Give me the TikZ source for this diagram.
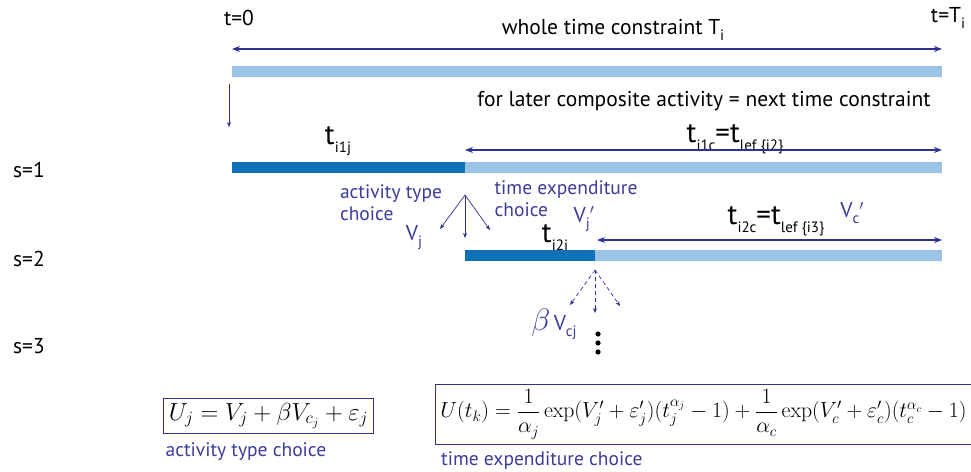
\documentclass[tikz,border=0pt]{standalone}
\usepackage{amsmath}
\usepackage{graphicx}
\usepackage[no-math]{fontspec}
\setmainfont{PT Sans}
\usetikzlibrary{arrows.meta, calc, positioning}

\definecolor{navy}{HTML}{2E3192}
\definecolor{darkbar}{HTML}{1071B9}
\definecolor{lightbar}{HTML}{9CC2E6}
\definecolor{labelblue}{HTML}{3C3C9A}

\newcommand{\lo}[1]{\raisebox{-0.55ex}{\fontsize{15}{15}\selectfont #1}}

\begin{document}
\begin{tikzpicture}[
  x=1pt, y=-1pt,
  >={Stealth[length=8pt,width=6pt]},
  span/.style={<->, navy, line width=1.4pt},
  pick/.style={-{Stealth[length=5pt,width=4pt]}, navy, line width=0.7pt},
  later/.style={pick, dashed, dash pattern=on 4pt off 3pt},
  bar/.style={line width=11pt},
  every node/.style={font=\fontsize{21.5}{24}\selectfont, inner sep=0pt},
  bigt/.style={font=\fontsize{29}{31}\selectfont},
  choice/.style={font=\fontsize{19.5}{22}\selectfont, text=labelblue, align=left},
  eqbox/.style={draw=navy, line width=0.8pt, inner sep=5pt, font=\fontsize{20}{24}\selectfont}
]
\useasboundingbox (0,0) rectangle (971,471);

% Whole time constraint
\node (t0) at (239,18) {t=0};
\node (tT) at (948,18) {t=T\lo{i}};
\node (whole) at (613,30) {whole time constraint T\lo{i}};
\coordinate (w0) at (232,49);
\coordinate (w1) at (942,49);
\draw[span] (w0) -- (w1);
\draw[bar, lightbar] (232,71.5) -- (942,71.5);

% Next step
\coordinate (d0) at (229,84);
\coordinate (d1) at (229,127);
\draw[pick] (d0) -- (d1);
\node (later) at (704,101) {for later composite activity = next time constraint};

% s=1
\node (s1) at (29,170) {s=1};
\node[bigt] (ti1j) at (338,141) {t\lo{i1j}};
\node[bigt] (ti1c) at (735,139) {t\lo{i1c}=t\lo{lef \{i2\}}};
\coordinate (a0) at (465,150);
\coordinate (a1) at (942,150);
\draw[span] (a0) -- (a1);
\draw[bar, darkbar] (232,167) -- (465,167);
\draw[bar, lightbar] (465,167) -- (942,167);

% Choices
\node[choice] (atype) at (391,203) {activity type\\choice};
\node[choice] (texp) at (566,199) {time expenditure\\choice};
\coordinate (fork) at (465,195);
\coordinate (f1) at (440,229);
\coordinate (f2) at (465,238);
\coordinate (f3) at (490,230);
\draw[pick] (fork) -- (f1);
\draw[pick] (fork) -- (f2);
\draw[pick] (fork) -- (f3);
\node[text=labelblue] (vj) at (414,238) {V\lo{j}};
\node[text=labelblue] (vjp) at (584,219) {V\lo{j}$'$};
\node[text=labelblue] (vcp) at (852,213) {V\lo{c}$'$};

% s=2
\node (s2) at (29,259) {s=2};
\node[bigt] (ti2j) at (555,239) {t\lo{i2j}};
\node[bigt] (ti2c) at (776,221) {t\lo{i2c}=t\lo{lef \{i3\}}};
\coordinate (b0) at (597,240);
\coordinate (b1) at (942,240);
\draw[span] (b0) -- (b1);
\draw[bar, darkbar] (465,255.5) -- (595,255.5);
\draw[bar, lightbar] (595,255.5) -- (942,255.5);

% s=3
\node (s3) at (29,346) {s=3};
\coordinate (g) at (595,270);
\coordinate (g1) at (570,305);
\coordinate (g2) at (595,313);
\coordinate (g3) at (620,306);
\draw[later] (g) -- (g1);
\draw[later] (g) -- (g2);
\draw[later] (g) -- (g3);
\node[text=labelblue] (bvcj) at (554,324) {\scalebox{1.5}{$\beta$}\,V\lo{cj}};
\foreach \y in {334,343,352}
  \fill (598,\y) circle (2.6pt);

% Utility functions
\node[eqbox] (uj) at (268.5,416) {\scalebox{1.19}{$U_j = V_j + \beta V_{c_j} + \varepsilon_j$}};
\node[eqbox, anchor=west] (ut) at (435,414) {\scalebox{1.05}{$U(t_k) = \dfrac{1}{\alpha_j}\exp(V'_j + \varepsilon'_j)(t_j^{\alpha_j} - 1) + \dfrac{1}{\alpha_c}\exp(V'_c + \varepsilon'_c)(t_c^{\alpha_c} - 1)$}};
\node[choice, below right=8pt and 2pt of uj.south west] (ujlab) {activity type choice};
\node[choice, below right=7pt and 6pt of ut.south west] (utlab) {time expenditure choice};

\end{tikzpicture}
\end{document}
